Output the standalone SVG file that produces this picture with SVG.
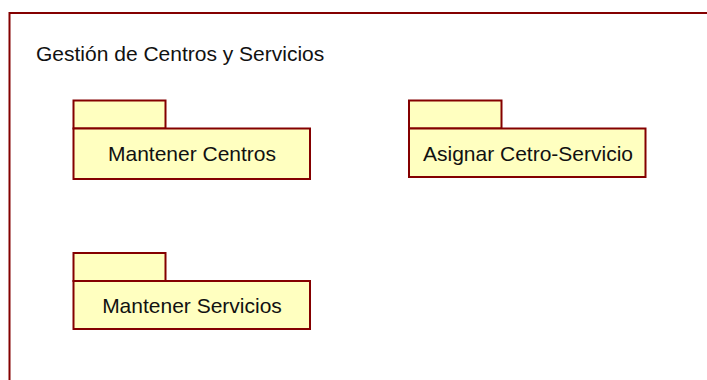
<svg xmlns="http://www.w3.org/2000/svg" width="707" height="380" viewBox="0 0 707 380">
<style>
.pkg{fill:#FFFFC0;stroke:#840000;stroke-width:2}
.frame{fill:none;stroke:#840000;stroke-width:2}
.lbl{font-family:"Liberation Sans",Arial,sans-serif;font-size:21px;fill:#111;text-anchor:middle}
.title{font-family:"Liberation Sans",Arial,sans-serif;font-size:21px;fill:#111}
</style>
<rect fill="#fff" x="0" y="0" width="707" height="380"/>
<g id="frame">
<rect class="frame" x="9.5" y="13" width="720" height="400"/>
<text class="title" x="36" y="60.5">Gestión de Centros y Servicios</text>
</g>
<g id="mantener-centros">
<rect class="pkg" x="73.5" y="100.5" width="92" height="28"/>
<rect class="pkg" x="73.5" y="128.5" width="236.5" height="50.5"/>
<text class="lbl" x="192" y="161">Mantener Centros</text>
</g>
<g id="asignar-centro-servicio">
<rect class="pkg" x="409" y="100.5" width="92.5" height="28"/>
<rect class="pkg" x="409" y="128.5" width="236.5" height="48.5"/>
<text class="lbl" x="528" y="161">Asignar Cetro-Servicio</text>
</g>
<g id="mantener-servicios">
<rect class="pkg" x="73.5" y="253" width="92" height="28"/>
<rect class="pkg" x="73.5" y="281" width="236.5" height="48"/>
<text class="lbl" x="192" y="312.5">Mantener Servicios</text>
</g>
<g id="connectors"/>
</svg>
